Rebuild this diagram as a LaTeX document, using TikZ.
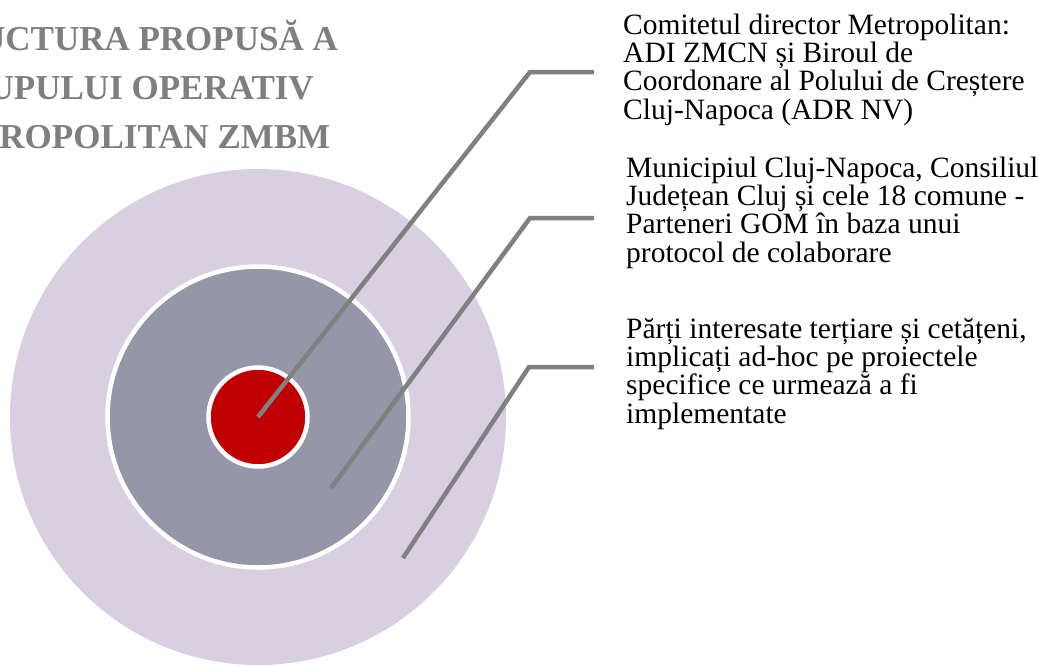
\documentclass[tikz,border=0pt]{standalone}
\usepackage{fontspec}
\setmainfont{Liberation Serif}
\usetikzlibrary{positioning}

\definecolor{ringouter}{RGB}{216,207,225}
\definecolor{ringmid}{RGB}{149,151,168}
\definecolor{ringcore}{RGB}{192,0,0}
\definecolor{leadgray}{RGB}{128,128,128}
\definecolor{titlegray}{RGB}{127,127,127}

\begin{document}
\begin{tikzpicture}[
	x=1pt, y=-1pt,
	ring/.style={
		circle,
		inner sep=0pt,
		draw=white,
		line width=4.5pt
	},
	leader/.style={
		draw=leadgray,
		line width=4.5pt
	},
	label/.style={
		anchor=base west,
		inner sep=0pt,
		align=left,
		font=\fontsize{29.5}{28.3}\selectfont
	},
	heading/.style={
		anchor=base,
		inner sep=0pt,
		align=center,
		text=titlegray,
		font=\fontsize{35}{49}\selectfont\bfseries
	}
	]
	\useasboundingbox (0,0) rectangle (1038,665);

	% title, cut by the left edge (placed by its last line)
	\begin{scope}
		\clip (0,0) rectangle (1038,665);
		\node[heading] (title) at (125,148) {STRUCTURA PROPUSĂ A\\GRUPULUI OPERATIV\\METROPOLITAN ZMBM};
	\end{scope}

	% the three rings
	\node[ring, draw=none, fill=ringouter, minimum size=496pt] (outer) at (258,417) {};
	\node[ring, fill=ringmid, minimum size=301pt] (middle) at (258,417) {};
	\node[ring, fill=ringcore, minimum size=99pt] (core) at (258,417) {};

	% texts on the right (base = last line)
	\node[label] (comitet) at (623,119) {Comitetul director Metropolitan:\\ADI ZMCN și Biroul de\\Coordonare al Polului de Creștere\\Cluj-Napoca (ADR NV)};
	\node[label] (parteneri) at (626,262) {Municipiul Cluj-Napoca, Consiliul\\Județean Cluj și cele 18 comune -\\Parteneri GOM în baza unui\\protocol de colaborare};
	\node[label] (terti) at (626,423) {Părți interesate terțiare și cetățeni,\\implicați ad-hoc pe proiectele\\specifice ce urmează a fi\\implementate};

	% leader lines
	\coordinate (s2) at (331,488);
	\coordinate (s3) at (403,558);
	\coordinate (k1) at (530,72);
	\coordinate (k2) at (530,218);
	\coordinate (k3) at (529,367);
	\coordinate (e1) at (594,72);
	\coordinate (e2) at (594,218);
	\coordinate (e3) at (594,367);

	\draw[leader] (core.center) -- (k1) -- (e1);
	\draw[leader] (s2) -- (k2) -- (e2);
	\draw[leader] (s3) -- (k3) -- (e3);
\end{tikzpicture}
\end{document}
